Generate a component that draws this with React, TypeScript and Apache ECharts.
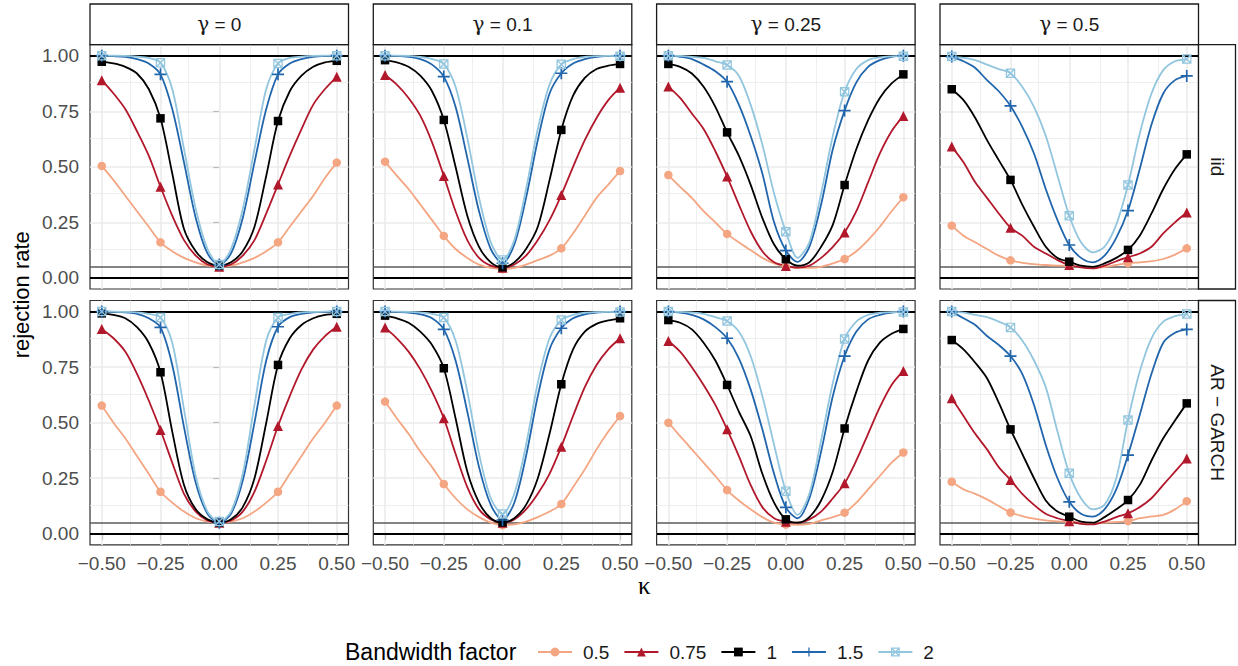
import React, { useEffect, useRef } from "react";
import * as echarts from "echarts";

// ---------- data ----------
const kappa = [-0.5, -0.45, -0.4, -0.35, -0.3, -0.25, -0.2, -0.15, -0.1, -0.05, 0, 0.05, 0.1, 0.15, 0.2, 0.25, 0.3, 0.35, 0.4, 0.45, 0.5];
const markerKappa = [-0.5, -0.25, 0, 0.25, 0.5];
const xTicks = [-0.5, -0.25, 0, 0.25, 0.5];
const yTicks = [0, 0.25, 0.5, 0.75, 1];
const xMinorGrid = [-0.375, -0.125, 0.125, 0.375];
const yMinorGrid = [0.125, 0.375, 0.625, 0.875];
const gammaValues = ["0", "0.1", "0.25", "0.5"];
const processLabels = ["iid", "AR − GARCH"];
const bandwidthLabels = ["0.5", "0.75", "1", "1.5", "2"];
const nominalLevel = 0.05;
const boundLines = [0, 1];

// iid, gamma = 0
const iid_g0_bw05 = [0.504, 0.44, 0.37, 0.30, 0.23, 0.16, 0.12, 0.09, 0.07, 0.055, 0.05, 0.055, 0.07, 0.09, 0.12, 0.16, 0.23, 0.30, 0.37, 0.45, 0.519];
const iid_g0_bw075 = [0.89, 0.83, 0.76, 0.66, 0.55, 0.41, 0.28, 0.17, 0.10, 0.06, 0.05, 0.06, 0.10, 0.17, 0.29, 0.42, 0.55, 0.67, 0.78, 0.85, 0.905];
const iid_g0_bw1 = [0.973, 0.965, 0.95, 0.92, 0.85, 0.718, 0.47, 0.22, 0.12, 0.07, 0.055, 0.07, 0.12, 0.23, 0.46, 0.706, 0.84, 0.91, 0.95, 0.97, 0.977];
const iid_g0_bw15 = [1.0, 0.998, 0.995, 0.985, 0.965, 0.916, 0.76, 0.52, 0.27, 0.11, 0.06, 0.11, 0.27, 0.52, 0.76, 0.916, 0.965, 0.985, 0.995, 0.999, 1.0];
const iid_g0_bw2 = [1.0, 1.0, 0.999, 0.996, 0.99, 0.968, 0.85, 0.58, 0.31, 0.13, 0.06, 0.13, 0.31, 0.58, 0.85, 0.965, 0.99, 0.996, 0.999, 1.0, 1.0];

// iid, gamma = 0.1
const iid_g01_bw05 = [0.523, 0.46, 0.40, 0.33, 0.26, 0.189, 0.13, 0.09, 0.06, 0.045, 0.04, 0.045, 0.06, 0.08, 0.10, 0.133, 0.20, 0.28, 0.36, 0.42, 0.481];
const iid_g01_bw075 = [0.913, 0.87, 0.81, 0.73, 0.61, 0.459, 0.30, 0.17, 0.09, 0.055, 0.046, 0.06, 0.10, 0.17, 0.26, 0.373, 0.50, 0.62, 0.72, 0.80, 0.856];
const iid_g01_bw1 = [0.98, 0.97, 0.95, 0.91, 0.84, 0.711, 0.50, 0.28, 0.14, 0.07, 0.048, 0.07, 0.13, 0.23, 0.44, 0.666, 0.82, 0.90, 0.94, 0.955, 0.963];
const iid_g01_bw15 = [1.0, 0.999, 0.995, 0.985, 0.96, 0.906, 0.77, 0.54, 0.30, 0.13, 0.066, 0.15, 0.36, 0.62, 0.83, 0.921, 0.965, 0.985, 0.995, 0.999, 1.0];
const iid_g01_bw2 = [1.0, 1.0, 0.999, 0.995, 0.985, 0.963, 0.86, 0.63, 0.36, 0.16, 0.08, 0.17, 0.40, 0.67, 0.87, 0.961, 0.985, 0.995, 0.998, 0.999, 0.998];

// iid, gamma = 0.25
const iid_g025_bw05 = [0.463, 0.41, 0.36, 0.30, 0.25, 0.198, 0.16, 0.125, 0.09, 0.065, 0.051, 0.045, 0.045, 0.05, 0.065, 0.085, 0.12, 0.17, 0.23, 0.30, 0.363];
const iid_g025_bw075 = [0.861, 0.81, 0.74, 0.67, 0.57, 0.456, 0.33, 0.21, 0.12, 0.07, 0.054, 0.046, 0.055, 0.09, 0.14, 0.204, 0.30, 0.43, 0.56, 0.66, 0.729];
const iid_g025_bw1 = [0.963, 0.95, 0.92, 0.86, 0.77, 0.655, 0.55, 0.42, 0.27, 0.15, 0.084, 0.055, 0.07, 0.14, 0.24, 0.418, 0.58, 0.71, 0.81, 0.875, 0.916];
const iid_g025_bw15 = [1.0, 0.995, 0.985, 0.96, 0.93, 0.883, 0.78, 0.64, 0.47, 0.25, 0.123, 0.072, 0.14, 0.33, 0.58, 0.753, 0.88, 0.95, 0.98, 0.995, 1.0];
const iid_g025_bw2 = [1.0, 0.999, 0.995, 0.99, 0.975, 0.958, 0.91, 0.78, 0.60, 0.38, 0.208, 0.09, 0.16, 0.38, 0.64, 0.838, 0.94, 0.98, 0.993, 0.997, 0.998];

// iid, gamma = 0.5
const iid_g05_bw05 = [0.235, 0.19, 0.16, 0.13, 0.10, 0.079, 0.068, 0.062, 0.058, 0.055, 0.054, 0.05, 0.045, 0.048, 0.058, 0.066, 0.07, 0.075, 0.085, 0.105, 0.133];
const iid_g05_bw075 = [0.591, 0.52, 0.43, 0.36, 0.29, 0.226, 0.19, 0.14, 0.11, 0.08, 0.058, 0.047, 0.043, 0.055, 0.075, 0.093, 0.11, 0.14, 0.20, 0.25, 0.294];
const iid_g05_bw1 = [0.849, 0.80, 0.72, 0.62, 0.53, 0.441, 0.33, 0.23, 0.14, 0.09, 0.073, 0.055, 0.05, 0.065, 0.09, 0.126, 0.19, 0.29, 0.40, 0.49, 0.556];
const iid_g05_bw15 = [0.996, 0.975, 0.945, 0.89, 0.84, 0.774, 0.68, 0.56, 0.40, 0.26, 0.148, 0.09, 0.07, 0.10, 0.18, 0.303, 0.49, 0.69, 0.83, 0.89, 0.909];
const iid_g05_bw2 = [0.996, 0.99, 0.98, 0.96, 0.94, 0.921, 0.86, 0.77, 0.64, 0.46, 0.28, 0.16, 0.115, 0.14, 0.24, 0.418, 0.65, 0.83, 0.935, 0.975, 0.985];

// AR-GARCH, gamma = 0
const ag_g0_bw05 = [0.577, 0.50, 0.43, 0.35, 0.27, 0.189, 0.14, 0.10, 0.07, 0.055, 0.05, 0.055, 0.07, 0.10, 0.14, 0.189, 0.27, 0.35, 0.43, 0.50, 0.577];
const ag_g0_bw075 = [0.922, 0.88, 0.82, 0.72, 0.60, 0.467, 0.32, 0.18, 0.10, 0.06, 0.05, 0.06, 0.10, 0.19, 0.33, 0.485, 0.62, 0.74, 0.83, 0.89, 0.932];
const ag_g0_bw1 = [0.992, 0.985, 0.97, 0.93, 0.86, 0.727, 0.46, 0.22, 0.11, 0.065, 0.05, 0.065, 0.12, 0.25, 0.50, 0.76, 0.88, 0.94, 0.97, 0.985, 0.99];
const ag_g0_bw15 = [1.0, 0.999, 0.997, 0.99, 0.97, 0.929, 0.76, 0.48, 0.23, 0.09, 0.05, 0.09, 0.24, 0.50, 0.78, 0.932, 0.975, 0.99, 0.997, 0.999, 1.0];
const ag_g0_bw2 = [1.0, 1.0, 0.999, 0.997, 0.99, 0.973, 0.86, 0.56, 0.26, 0.10, 0.055, 0.10, 0.27, 0.58, 0.87, 0.973, 0.99, 0.997, 0.999, 1.0, 1.0];

// AR-GARCH, gamma = 0.1
const ag_g01_bw05 = [0.595, 0.52, 0.45, 0.37, 0.30, 0.224, 0.16, 0.11, 0.075, 0.05, 0.039, 0.042, 0.055, 0.075, 0.10, 0.134, 0.21, 0.29, 0.38, 0.46, 0.53];
const ag_g01_bw075 = [0.928, 0.88, 0.82, 0.74, 0.64, 0.52, 0.36, 0.21, 0.11, 0.065, 0.05, 0.065, 0.11, 0.18, 0.27, 0.392, 0.53, 0.66, 0.76, 0.83, 0.88];
const ag_g01_bw1 = [0.982, 0.97, 0.95, 0.91, 0.85, 0.745, 0.52, 0.28, 0.14, 0.07, 0.051, 0.07, 0.13, 0.25, 0.45, 0.673, 0.83, 0.91, 0.945, 0.96, 0.97];
const ag_g01_bw15 = [1.0, 0.999, 0.996, 0.988, 0.97, 0.92, 0.78, 0.55, 0.30, 0.13, 0.062, 0.14, 0.35, 0.62, 0.83, 0.925, 0.97, 0.988, 0.996, 0.999, 1.0];
const ag_g01_bw2 = [1.0, 1.0, 0.999, 0.996, 0.99, 0.973, 0.87, 0.64, 0.36, 0.16, 0.089, 0.18, 0.40, 0.68, 0.88, 0.962, 0.985, 0.995, 0.998, 0.999, 0.998];

// AR-GARCH, gamma = 0.25
const ag_g025_bw05 = [0.50, 0.44, 0.38, 0.32, 0.26, 0.197, 0.15, 0.11, 0.075, 0.05, 0.042, 0.04, 0.045, 0.06, 0.075, 0.095, 0.14, 0.20, 0.26, 0.32, 0.366];
const ag_g025_bw075 = [0.868, 0.82, 0.75, 0.67, 0.58, 0.47, 0.35, 0.22, 0.12, 0.07, 0.054, 0.05, 0.065, 0.10, 0.16, 0.227, 0.33, 0.45, 0.57, 0.67, 0.733];
const ag_g025_bw1 = [0.962, 0.95, 0.92, 0.86, 0.78, 0.67, 0.55, 0.44, 0.27, 0.14, 0.065, 0.05, 0.075, 0.15, 0.28, 0.474, 0.64, 0.78, 0.86, 0.90, 0.922];
const ag_g025_bw15 = [1.0, 0.995, 0.985, 0.965, 0.93, 0.88, 0.79, 0.65, 0.47, 0.27, 0.119, 0.07, 0.16, 0.37, 0.62, 0.80, 0.91, 0.965, 0.985, 0.995, 1.0];
const ag_g025_bw2 = [1.0, 0.999, 0.996, 0.99, 0.975, 0.958, 0.91, 0.80, 0.62, 0.40, 0.192, 0.085, 0.18, 0.42, 0.68, 0.877, 0.955, 0.985, 0.995, 0.998, 0.998];

// AR-GARCH, gamma = 0.5
const ag_g05_bw05 = [0.234, 0.20, 0.18, 0.155, 0.125, 0.096, 0.08, 0.068, 0.06, 0.056, 0.054, 0.05, 0.048, 0.05, 0.053, 0.057, 0.07, 0.078, 0.085, 0.11, 0.147];
const ag_g05_bw075 = [0.61, 0.53, 0.45, 0.38, 0.30, 0.242, 0.18, 0.13, 0.09, 0.07, 0.057, 0.045, 0.042, 0.055, 0.075, 0.092, 0.12, 0.16, 0.22, 0.28, 0.339];
const ag_g05_bw1 = [0.872, 0.83, 0.77, 0.70, 0.59, 0.47, 0.36, 0.25, 0.15, 0.10, 0.077, 0.055, 0.05, 0.075, 0.11, 0.152, 0.22, 0.33, 0.43, 0.51, 0.587];
const ag_g05_bw15 = [1.0, 0.97, 0.94, 0.89, 0.85, 0.80, 0.72, 0.58, 0.40, 0.25, 0.144, 0.09, 0.077, 0.11, 0.20, 0.354, 0.535, 0.72, 0.86, 0.905, 0.92];
const ag_g05_bw2 = [1.0, 0.995, 0.985, 0.975, 0.955, 0.929, 0.87, 0.78, 0.66, 0.46, 0.272, 0.16, 0.11, 0.13, 0.25, 0.512, 0.73, 0.88, 0.955, 0.98, 0.989];

// panels in row-major order: row = process, column = gamma
const panelData = [
  [iid_g0_bw05, iid_g0_bw075, iid_g0_bw1, iid_g0_bw15, iid_g0_bw2],
  [iid_g01_bw05, iid_g01_bw075, iid_g01_bw1, iid_g01_bw15, iid_g01_bw2],
  [iid_g025_bw05, iid_g025_bw075, iid_g025_bw1, iid_g025_bw15, iid_g025_bw2],
  [iid_g05_bw05, iid_g05_bw075, iid_g05_bw1, iid_g05_bw15, iid_g05_bw2],
  [ag_g0_bw05, ag_g0_bw075, ag_g0_bw1, ag_g0_bw15, ag_g0_bw2],
  [ag_g01_bw05, ag_g01_bw075, ag_g01_bw1, ag_g01_bw15, ag_g01_bw2],
  [ag_g025_bw05, ag_g025_bw075, ag_g025_bw1, ag_g025_bw15, ag_g025_bw2],
  [ag_g05_bw05, ag_g05_bw075, ag_g05_bw1, ag_g05_bw15, ag_g05_bw2],
];

// ---------- styles / layout ----------
const FONT = "'Liberation Sans', Arial, Helvetica, sans-serif";
const GREEK_FONT = "'DejaVu Serif', 'Liberation Serif', serif";
const KAPPA_FONT = "'Liberation Serif', 'DejaVu Serif', serif";
const PLUS = "path://M4.3,0H5.7V4.3H10V5.7H5.7V10H4.3V5.7H0V4.3H4.3Z";
const BOXX =
  "path://M0,0H10V10H0Z M1.3,1.3V8.7H8.7V1.3Z M0,0L1,0L10,9L10,10L9,10L0,1Z M10,0L10,1L1,10L0,10L0,9L9,0Z";
const seriesColors = ["#F4A582", "#B2182B", "#000000", "#2166AC", "#92C5DE"];
const seriesSymbols = ["circle", "triangle", "rect", PLUS, BOXX];
const seriesSymbolSizes = [8.5, 10, 8.5, 12, 9.5];

const PANEL_LEFT = [90, 373.3, 656.6, 940];
const PANEL_W = 258.5;
const PANEL_TOP = [44.6, 300.5];
const PANEL_H = 244.4;
const STRIP_TOP = 4;
const STRIP_RIGHT_W = 37;

const fmt = (v: number) => {
  const s = Math.abs(v).toFixed(2);
  return v < -1e-9 ? "\u2212" + s : s;
};
const isMarker = (k: number) => markerKappa.some((m) => Math.abs(m - k) < 1e-9);

function buildOption() {
  const grid: any[] = [];
  const xAxis: any[] = [];
  const yAxis: any[] = [];
  const series: any[] = [];
  const graphic: any[] = [];

  for (let r = 0; r < 2; r++) {
    for (let c = 0; c < 4; c++) {
      const i = r * 4 + c;
      grid.push({
        left: PANEL_LEFT[c],
        top: PANEL_TOP[r],
        width: PANEL_W,
        height: PANEL_H,
        show: true,
        backgroundColor: "#FFFFFF",
        borderColor: "#333333",
        borderWidth: 1.2,
      });
      xAxis.push({
        type: "value",
        gridIndex: i,
        min: -0.55,
        max: 0.55,
        axisLine: { show: false },
        splitLine: { show: false },
        axisTick: {
          show: r === 1,
          customValues: xTicks,
          length: 6,
          lineStyle: { color: "#333333", width: 1.1 },
        },
        axisLabel: {
          show: r === 1,
          customValues: xTicks,
          formatter: fmt,
          fontSize: 19,
          color: "#4D4D4D",
          fontFamily: FONT,
          margin: 9,
        },
      });
      yAxis.push({
        type: "value",
        gridIndex: i,
        min: -0.05,
        max: 1.05,
        axisLine: { show: false },
        splitLine: { show: false },
        axisTick: {
          show: c === 0,
          customValues: yTicks,
          length: 6,
          lineStyle: { color: "#333333", width: 1.1 },
        },
        axisLabel: {
          show: c === 0,
          customValues: yTicks,
          formatter: (v: number) => v.toFixed(2),
          fontSize: 19,
          color: "#4D4D4D",
          fontFamily: FONT,
          margin: 11,
        },
      });

      // background grid + reference lines
      const minorLine = { color: "#EBEBEB", width: 0.8, type: "solid" };
      const majorLine = { color: "#EBEBEB", width: 1.6, type: "solid" };
      series.push({
        type: "line",
        name: "grid" + i,
        xAxisIndex: i,
        yAxisIndex: i,
        data: [],
        silent: true,
        z: 1,
        markLine: {
          silent: true,
          z: 1,
          symbol: ["none", "none"],
          label: { show: false },
          emphasis: { disabled: true },
          animation: false,
          data: [
            ...xMinorGrid.map((v) => ({ xAxis: v, lineStyle: minorLine })),
            ...yMinorGrid.map((v) => ({ yAxis: v, lineStyle: minorLine })),
            ...xTicks.map((v) => ({ xAxis: v, lineStyle: majorLine })),
            ...yTicks.map((v) => ({ yAxis: v, lineStyle: majorLine })),
            { yAxis: nominalLevel, lineStyle: { color: "#5A5A5A", width: 1.6, type: "solid" } },
            ...boundLines.map((v) => ({ yAxis: v, lineStyle: { color: "#000000", width: 1.8, type: "solid" } })),
          ],
        },
      });

      panelData[i].forEach((vals, b) => {
        series.push({
          type: "line",
          name: bandwidthLabels[b],
          xAxisIndex: i,
          yAxisIndex: i,
          z: 3,
          smooth: 0.3,
          symbol: seriesSymbols[b],
          symbolSize: seriesSymbolSizes[b],
          showSymbol: true,
          showAllSymbol: true,
          lineStyle: { color: seriesColors[b], width: 1.8 },
          itemStyle: { color: seriesColors[b] },
          emphasis: { disabled: true },
          data: kappa.map((k, j) =>
            isMarker(k) ? { value: [k, vals[j]] } : { value: [k, vals[j]], symbol: "none" }
          ),
        });
      });
    }
  }

  // top strips
  gammaValues.forEach((g, c) => {
    graphic.push({
      type: "rect",
      shape: { x: PANEL_LEFT[c], y: STRIP_TOP, width: PANEL_W, height: PANEL_TOP[0] - STRIP_TOP },
      style: { fill: "#FFFFFF", stroke: "#1A1A1A", lineWidth: 1.3 },
      z: 10,
    });
    graphic.push({
      type: "text",
      x: PANEL_LEFT[c] + PANEL_W / 2,
      y: (STRIP_TOP + PANEL_TOP[0]) / 2,
      style: {
        text: "{g|γ}{t| = " + g + "}",
        align: "center",
        verticalAlign: "middle",
        rich: {
          g: { fontFamily: GREEK_FONT, fontSize: 20, fill: "#1A1A1A" },
          t: { fontFamily: FONT, fontSize: 19, fill: "#1A1A1A" },
        },
      },
      z: 11,
    });
  });
  // right strips
  processLabels.forEach((p, r) => {
    const x0 = PANEL_LEFT[3] + PANEL_W;
    graphic.push({
      type: "rect",
      shape: { x: x0, y: PANEL_TOP[r], width: STRIP_RIGHT_W, height: PANEL_H },
      style: { fill: "#FFFFFF", stroke: "#1A1A1A", lineWidth: 1.3 },
      z: 10,
    });
    graphic.push({
      type: "text",
      x: x0 + STRIP_RIGHT_W / 2,
      y: PANEL_TOP[r] + PANEL_H / 2,
      rotation: -Math.PI / 2,
      style: { text: p, fontSize: 19, fontFamily: FONT, fill: "#1A1A1A", align: "center", verticalAlign: "middle" },
      z: 11,
    });
  });
  // axis titles
  graphic.push({
    type: "text",
    x: 21,
    y: (PANEL_TOP[0] + PANEL_TOP[1] + PANEL_H) / 2,
    rotation: Math.PI / 2,
    style: { text: "rejection rate", fontSize: 22, fontFamily: FONT, fill: "#000000", align: "center", verticalAlign: "middle" },
  });
  graphic.push({
    type: "text",
    x: (PANEL_LEFT[0] + PANEL_LEFT[3] + PANEL_W) / 2,
    y: 585,
    style: { text: "κ", fontSize: 25, fontFamily: KAPPA_FONT, fill: "#000000", align: "center", verticalAlign: "middle" },
  });
  // legend title
  graphic.push({
    type: "text",
    x: 345,
    y: 652,
    style: { text: "Bandwidth factor", fontSize: 23, fontFamily: FONT, fill: "#000000", align: "left", verticalAlign: "middle" },
  });

  return {
    animation: false,
    backgroundColor: "#FFFFFF",
    textStyle: { fontFamily: FONT },
    grid,
    xAxis,
    yAxis,
    series,
    graphic,
    legend: {
      data: bandwidthLabels,
      left: 537,
      top: 641,
      padding: 0,
      orient: "horizontal",
      itemWidth: 34,
      itemHeight: 11,
      itemGap: 14,
      selectedMode: false,
      textStyle: {
        fontSize: 19,
        lineHeight: 22,
        color: "#1A1A1A",
        fontFamily: FONT,
        padding: [0, 0, 0, 6],
      },
    },
  };
}

export default function App() {
  const ref = useRef<HTMLDivElement>(null);
  useEffect(() => {
    document.body.style.margin = "0";
    if (!ref.current) return;
    const chart = echarts.init(ref.current, undefined, { renderer: "svg" });
    chart.setOption(buildOption() as any);
    return () => chart.dispose();
  }, []);
  return <div ref={ref} style={{ width: 1238, height: 666 }} />;
}
